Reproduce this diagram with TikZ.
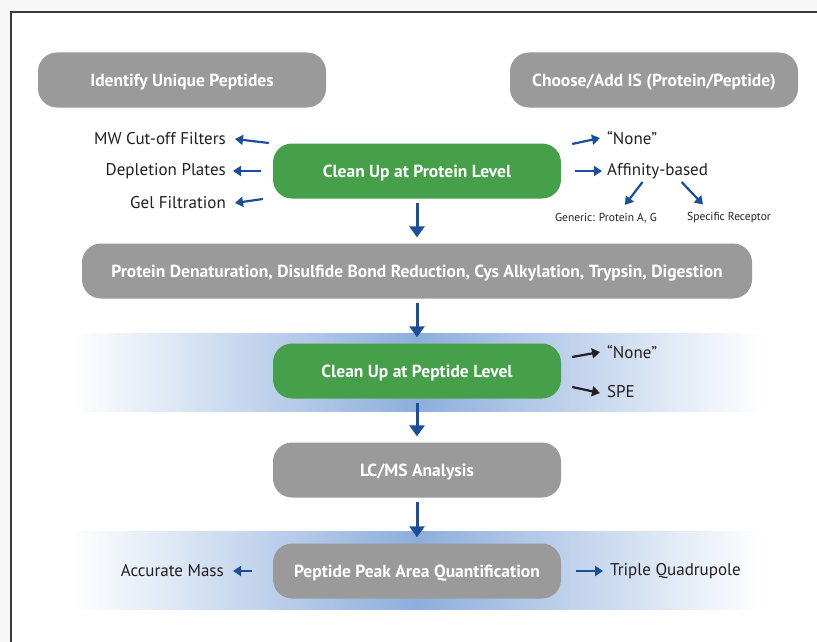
\documentclass[tikz,border=0pt]{standalone}
\usepackage{fontspec}
\setmainfont{PT Sans}
\usetikzlibrary{arrows.meta}
\definecolor{boxgray}{HTML}{9A9A9A}
\definecolor{boxgreen}{HTML}{46A04A}
\definecolor{arrowblue}{HTML}{1B4F9C}
\definecolor{bandblue}{HTML}{8DAEDC}
\definecolor{textdark}{HTML}{231F20}
\definecolor{pagegray}{HTML}{F7F7F7}
\definecolor{framegray}{HTML}{3A3A3A}
\tikzset{>=latex}
\tikzset{
  stepbox/.style={rounded corners=19pt, minimum width=288pt, minimum height=55pt,
    text=white, font=\bfseries\fontsize{17.5}{19}\selectfont, inner sep=0pt,
    text height=12.5pt, text depth=0pt},
  graybox/.style={stepbox, fill=boxgray},
  greenbox/.style={stepbox, fill=boxgreen},
  side/.style={text=textdark, font=\fontsize{17}{19}\selectfont, inner sep=1pt},
  small/.style={text=textdark, font=\fontsize{11.5}{13}\selectfont, inner sep=1pt},
  downarr/.style={-{Triangle[length=11pt,width=15pt]}, line width=3pt, arrowblue,
    shorten <=4pt, shorten >=6pt},
  sidearr/.style={-{Triangle[length=8pt,width=10pt]}, line width=2.2pt, arrowblue},
  band/.style={left color=white, right color=white, middle color=bandblue}
}
\begin{document}
\begin{tikzpicture}[x=1pt,y=-1pt]
\useasboundingbox (0,0) rectangle (817,642);
\fill[pagegray] (0,0) rectangle (817,642);
\fill[white] (11,12) rectangle (817,642);
\draw[framegray, line width=1.5pt] (11,642) -- (11,12) -- (817,12);

% shaded bands behind the peptide steps
\shade[band] (72,333) rectangle (762,411);
\shade[band] (72,531) rectangle (762,609);

\node[graybox] (identify) at (182,80) {Identify Unique Peptides};
\node[graybox] (choose) at (654,80) {Choose/Add IS (Protein/Peptide)};
\node[greenbox] (cleanprot) at (417,171) {Clean Up at Protein Level};
\node[graybox, minimum width=670pt] (digest) at (417,271)
  {Protein Denaturation, Disulfide Bond Reduction, Cys Alkylation, Trypsin, Digestion};
\node[greenbox] (cleanpep) at (417,371) {Clean Up at Peptide Level};
\node[graybox] (lcms) at (417,470) {LC/MS Analysis};
\node[graybox] (quant) at (417,571) {Peptide Peak Area Quantification};

\node[side, anchor=east] (mwcut) at (227,139) {MW Cut-off Filters};
\node[side, anchor=east] (deplete) at (227,171) {Depletion Plates};
\node[side, anchor=east] (gelfilt) at (227,203) {Gel Filtration};
\node[side, anchor=west] (nonea) at (606,138) {``None''};
\node[side, anchor=west] (affinity) at (606,171) {Affinity-based};
\node[small] (generic) at (606,218) {Generic: Protein A, G};
\node[small] (specific) at (729,218) {Specific Receptor};
\node[side, anchor=west] (noneb) at (606,352) {``None''};
\node[side, anchor=west] (spe) at (606,392) {SPE};
\node[side, anchor=east] (accmass) at (225,571) {Accurate Mass};
\node[side, anchor=west] (triple) at (609,571) {Triple Quadrupole};

\draw[downarr] (cleanprot) -- (digest);
\draw[downarr] (digest) -- (cleanpep);
\draw[downarr] (cleanpep) -- (lcms);
\draw[downarr] (lcms) -- (quant);

\draw[sidearr] ([shift={(-4,-28)}]cleanprot.west) -- ([xshift=8pt]mwcut.east);
\draw[sidearr] ([xshift=-12pt]cleanprot.west) -- ([xshift=6pt]deplete.east);
\draw[sidearr] ([shift={(-10,28)}]cleanprot.west) -- ([xshift=8pt]gelfilt.east);
\draw[sidearr] ([shift={(11,-27)}]cleanprot.east) -- ([xshift=-6pt]nonea.west);
\draw[sidearr] ([xshift=14pt]cleanprot.east) -- ([xshift=-4pt]affinity.west);
\draw[sidearr] ([shift={(-15,2)}]affinity.south) -- ([shift={(19,-7)}]generic.north);
\draw[sidearr] ([shift={(24,2)}]affinity.south) -- ([shift={(-26,-7)}]specific.north);

\draw[sidearr, textdark] ([shift={(11,-14)}]cleanpep.east) -- ([xshift=-6pt]noneb.west);
\draw[sidearr, textdark] ([shift={(11,16)}]cleanpep.east) -- ([shift={(-6,1)}]spe.west);

\draw[sidearr] ([xshift=-21pt]quant.west) -- ([xshift=8pt]accmass.east);
\draw[sidearr] ([xshift=15pt]quant.east) -- ([xshift=-6pt]triple.west);
\end{tikzpicture}
\end{document}
